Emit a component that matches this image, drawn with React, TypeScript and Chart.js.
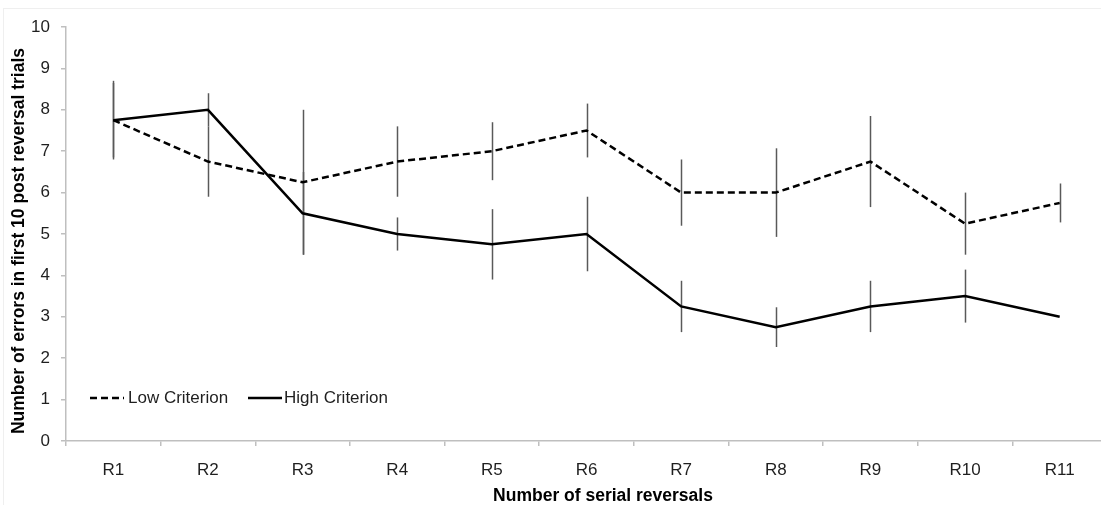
import React, { useEffect, useRef } from "react";
import { Chart, registerables } from "chart.js";

Chart.register(...registerables);

const categories = ["R1", "R2", "R3", "R4", "R5", "R6", "R7", "R8", "R9", "R10", "R11"];
const lowMeans = [7.75, 6.75, 6.25, 6.75, 7.0, 7.5, 6.0, 6.0, 6.75, 5.25, 5.75];
const lowErr = [0.95, 0.85, 1.75, 0.85, 0.7, 0.65, 0.8, 1.07, 1.1, 0.75, 0.47];
const highMeans = [7.75, 8.0, 5.5, 5.0, 4.75, 5.0, 3.25, 2.75, 3.25, 3.5, 3.0];
const highErr = [0.9, 0.4, 1.0, 0.4, 0.85, 0.9, 0.62, 0.48, 0.62, 0.64, 0];
const yTicks = [0, 1, 2, 3, 4, 5, 6, 7, 8, 9, 10];
const seriesNames = ["Low Criterion", "High Criterion"];
const xTitle = "Number of serial reversals";
const yTitle = "Number of errors in first 10 post reversal trials";

const FONT = '"Liberation Sans", Arial, sans-serif';
const AXIS_COLOR = "#bfbfbf";
const TEXT_COLOR = "#1f1f1f";
const DASH = [7, 4];

const errorBarPlugin = {
  id: "errorBars",
  beforeDatasetsDraw(chart: any) {
    const ctx = chart.ctx;
    const x = chart.scales.x;
    const y = chart.scales.y;
    const errs = [lowErr, highErr];
    const means = [lowMeans, highMeans];
    ctx.save();
    ctx.strokeStyle = "#595959";
    ctx.lineWidth = 1.5;
    for (let s = 0; s < 2; s++) {
      for (let i = 0; i < categories.length; i++) {
        const e = errs[s][i];
        if (!e) continue;
        const px = Math.round(x.getPixelForValue(i)) + 0.5;
        ctx.beginPath();
        ctx.moveTo(px, y.getPixelForValue(means[s][i] + e));
        ctx.lineTo(px, y.getPixelForValue(means[s][i] - e));
        ctx.stroke();
      }
    }
    ctx.restore();
  },
};

const decorPlugin = {
  id: "decor",
  afterDraw(chart: any) {
    const ctx = chart.ctx;
    ctx.save();
    // faint outer border
    ctx.strokeStyle = "#efefef";
    ctx.lineWidth = 1;
    ctx.strokeRect(3.5, 8.5, 1200, 600);

    // legend
    const ly = 398;
    ctx.lineWidth = 2.5;
    ctx.strokeStyle = "#000";
    ctx.setLineDash(DASH);
    ctx.beginPath();
    ctx.moveTo(90, ly);
    ctx.lineTo(124, ly);
    ctx.stroke();
    ctx.setLineDash([]);
    ctx.beginPath();
    ctx.moveTo(248, ly);
    ctx.lineTo(282, ly);
    ctx.stroke();
    ctx.fillStyle = TEXT_COLOR;
    ctx.font = `17px ${FONT}`;
    ctx.textBaseline = "middle";
    ctx.textAlign = "left";
    ctx.fillText(seriesNames[0], 128, ly);
    ctx.fillText(seriesNames[1], 284, ly);

    // axis titles
    ctx.fillStyle = "#000";
    ctx.font = `bold 17.5px ${FONT}`;
    ctx.textAlign = "center";
    ctx.fillText(xTitle, 603, 496);
    ctx.translate(19.5, 241);
    ctx.rotate(-Math.PI / 2);
    ctx.fillText(yTitle, 0, 0);
    ctx.restore();
  },
};

export default function App() {
  const ref = useRef<HTMLCanvasElement>(null);
  useEffect(() => {
    if (!ref.current) return;
    const chart = new Chart(ref.current, {
      type: "line",
      data: {
        labels: categories,
        datasets: [
          {
            label: seriesNames[0],
            data: lowMeans,
            borderColor: "#000",
            borderWidth: 2.5,
            borderDash: DASH,
            pointRadius: 0,
            tension: 0,
            fill: false,
          },
          {
            label: seriesNames[1],
            data: highMeans,
            borderColor: "#000",
            borderWidth: 2.5,
            pointRadius: 0,
            tension: 0,
            fill: false,
          },
        ],
      },
      options: {
        responsive: false,
        animation: false,
        layout: { padding: { left: 0, right: 13, top: 27, bottom: 0 } },
        plugins: { legend: { display: false }, tooltip: { enabled: false }, title: { display: false } },
        scales: {
          x: {
            type: "category",
            offset: true,
            grid: { offset: true, drawOnChartArea: false, drawTicks: true, tickLength: 5, color: AXIS_COLOR, lineWidth: 1.5 },
            border: { display: true, color: AXIS_COLOR, width: 1.5 },
            ticks: { color: TEXT_COLOR, font: { family: FONT, size: 17 }, padding: 14, maxRotation: 0, autoSkip: false },
            afterFit: (s: any) => { s.height = 64; },
          },
          y: {
            min: 0,
            max: 10,
            afterBuildTicks: (s: any) => { s.ticks = yTicks.map((v) => ({ value: v })); },
            grid: { drawOnChartArea: false, drawTicks: true, tickLength: 5, color: AXIS_COLOR, lineWidth: 1.5 },
            border: { display: true, color: AXIS_COLOR, width: 1.5 },
            ticks: { color: TEXT_COLOR, font: { family: FONT, size: 17 }, padding: 11 },
            afterFit: (s: any) => { s.width = 66; },
          },
        },
      },
      plugins: [errorBarPlugin, decorPlugin],
    });
    return () => chart.destroy();
  }, []);
  return (
    <div style={{ position: "fixed", left: 0, top: 0, width: 1101, height: 505, overflow: "hidden", background: "#fff" }}>
      <canvas ref={ref} width={1120} height={505} style={{ display: "block" }} />
    </div>
  );
}
